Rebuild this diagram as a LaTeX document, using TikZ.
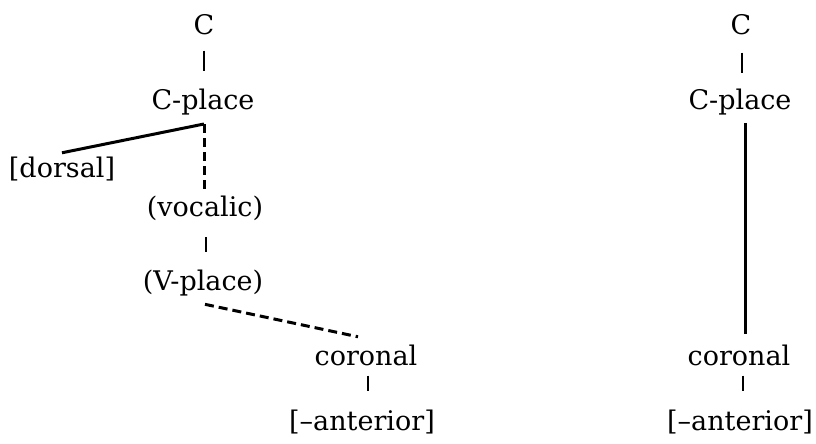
\documentclass[tikz,border=0pt]{standalone}
\usepackage{fontspec}
\setmainfont{DejaVu Serif}
\begin{document}
\begin{tikzpicture}[x=1pt,y=-1pt,
  lab/.style={anchor=base,inner sep=0pt,font=\fontsize{27}{32}\selectfont},
  bar/.style={line width=2pt},
  thick line/.style={line width=3pt},
  dash line/.style={line width=3pt,dash pattern=on 9pt off 5pt}]
\useasboundingbox (0,0) rectangle (816,444);
% left tree
\node[lab] (c1) at (204,35) {C};
\node[lab] (cp1) at (203,109) {C-place};
\coordinate (cpfoot) at (204,124);
\node[lab] (dor) at (62,177) {[dorsal]};
\node[lab] (voc) at (205,216) {(vocalic)};
\node[lab] (vp) at (203,290) {(V-place)};
\node[lab] (cor1) at (366,365) {coronal};
\node[lab] (ant1) at (362,430) {[–anterior]};
\draw[bar] ([yshift=-15pt]c1.south) -- ([yshift=-35pt]c1.south);
\draw[thick line] (cpfoot) -- ([yshift=3.5pt]dor.north);
\draw[dash line] (cpfoot) -- ([yshift=3pt]voc.north -| cpfoot);
\draw[bar] ([xshift=1pt,yshift=-17pt]voc.south) -- ([xshift=1pt,yshift=17pt]vp.north -| voc.south);
\draw[dash line] ([xshift=2pt,yshift=-8.5pt]vp.south) -- ([xshift=-8pt,yshift=7.5pt]cor1.north);
\draw[bar] ([xshift=2pt,yshift=-10pt]cor1.south) -- ([xshift=2pt,yshift=18pt]ant1.north -| cor1.south);
% right tree
\node[lab] (c2) at (741,35) {C};
\node[lab] (cp2) at (740,109) {C-place};
\node[lab] (cor2) at (739,365) {coronal};
\node[lab] (ant2) at (740,430) {[–anterior]};
\draw[bar] ([xshift=1pt,yshift=-17pt]c2.south) -- ([xshift=1pt,yshift=-37pt]c2.south);
\draw[thick line] ([xshift=5pt,yshift=-8pt]cp2.south) -- ([xshift=5pt,yshift=10pt]cor2.north -| cp2.south);
\draw[bar] ([xshift=4pt,yshift=-10pt]cor2.south) -- ([xshift=4pt,yshift=18pt]ant2.north -| cor2.south);
\end{tikzpicture}
\end{document}
